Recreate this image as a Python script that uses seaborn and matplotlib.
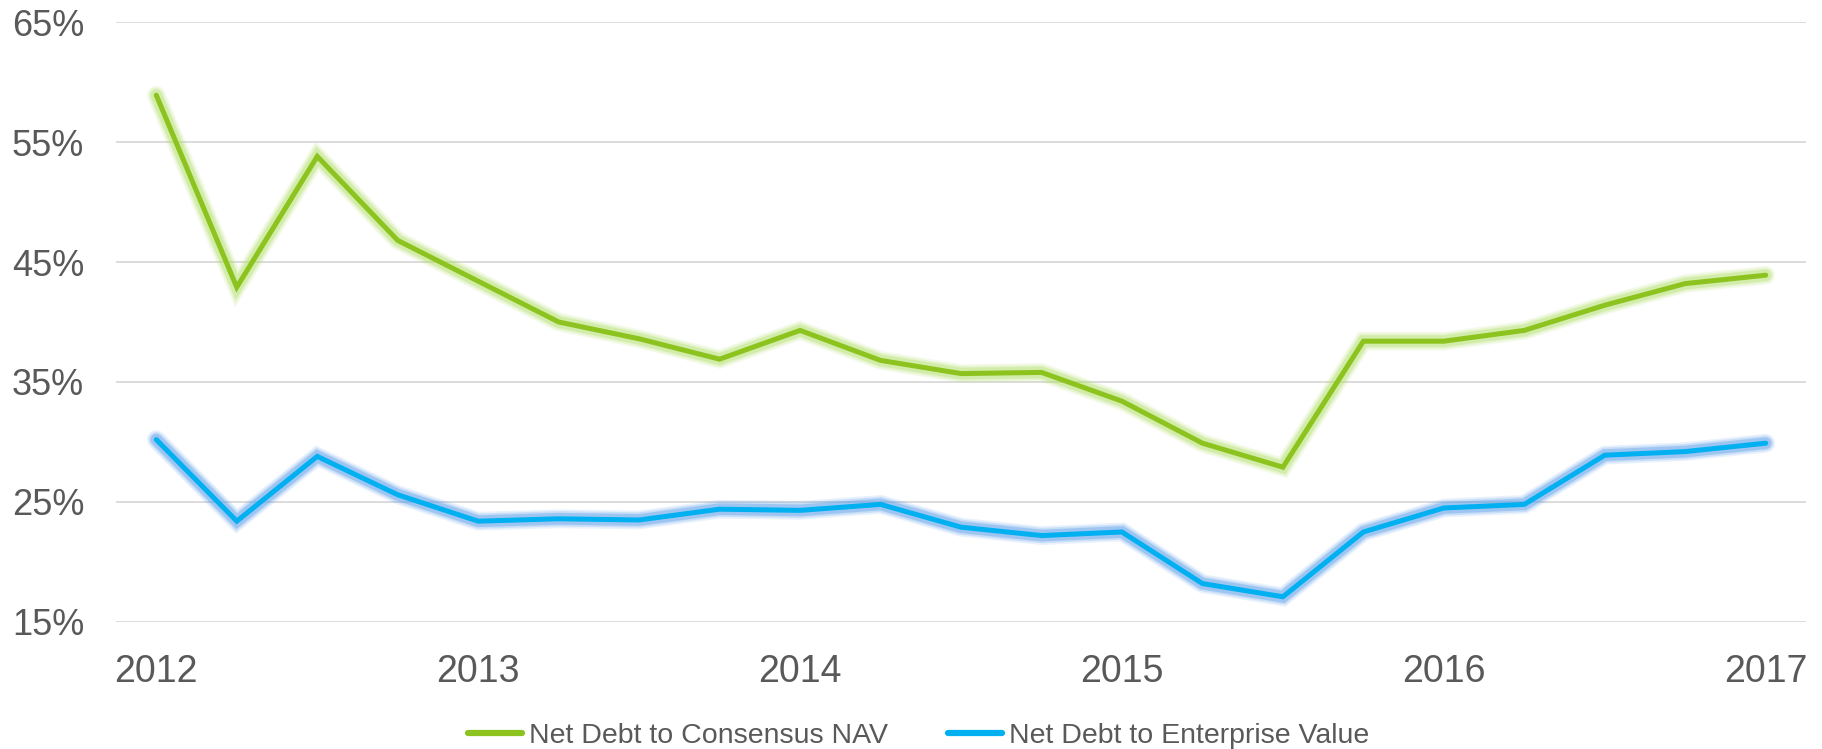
import numpy as np
import pandas as pd
import matplotlib
matplotlib.use("Agg")
import matplotlib.pyplot as plt
import matplotlib.patheffects as pe
from matplotlib.lines import Line2D
import seaborn as sns

# quarterly observations, 2012 Q1 .. 2017 Q1
quarters = ["2012Q1", "2012Q2", "2012Q3", "2012Q4",
            "2013Q1", "2013Q2", "2013Q3", "2013Q4",
            "2014Q1", "2014Q2", "2014Q3", "2014Q4",
            "2015Q1", "2015Q2", "2015Q3", "2015Q4",
            "2016Q1", "2016Q2", "2016Q3", "2016Q4",
            "2017Q1"]
nav_pct = [58.9, 42.9, 53.8, 46.8, 43.4, 40.0, 38.6, 36.9, 39.3, 36.8, 35.7,
           35.8, 33.4, 29.9, 27.9, 38.4, 38.4, 39.3, 41.4, 43.2, 43.9]
ev_pct = [30.2, 23.4, 28.8, 25.6, 23.4, 23.6, 23.5, 24.4, 24.3, 24.8, 22.9,
          22.2, 22.5, 18.2, 17.1, 22.5, 24.5, 24.8, 28.9, 29.2, 29.9]
series_names = ["Net Debt to Consensus NAV", "Net Debt to Enterprise Value"]
year_labels = ["2012", "2013", "2014", "2015", "2016", "2017"]
y_ticks = [15, 25, 35, 45, 55, 65]

colors = {"Net Debt to Consensus NAV": "#8CC31E",
          "Net Debt to Enterprise Value": "#00B0F0"}
glows = {"Net Debt to Consensus NAV": "#B5E070",
         "Net Debt to Enterprise Value": "#5E9FEA"}

idx = np.arange(len(quarters))
df = pd.concat([
    pd.DataFrame({"q": idx, "value": nav_pct, "series": series_names[0]}),
    pd.DataFrame({"q": idx, "value": ev_pct, "series": series_names[1]}),
])

sns.set_theme(style="white")
plt.rcParams["font.family"] = ["Liberation Sans", "DejaVu Sans"]

fig = plt.figure(figsize=(18.22, 7.49), dpi=100)
ax = fig.add_axes([0.0637, 0.1696, 0.9275, 0.8010])

sns.lineplot(data=df, x="q", y="value", hue="series", palette=colors,
             linewidth=3.6, legend=False, ax=ax)

# soft glow behind each line
for line, name in zip(ax.lines, series_names):
    g = glows[name]
    line.set_solid_capstyle("round")
    line.set_solid_joinstyle("miter")
    line.set_path_effects([
        pe.Stroke(linewidth=13.5, foreground=g, alpha=0.14),
        pe.Stroke(linewidth=11, foreground=g, alpha=0.22),
        pe.Stroke(linewidth=8.5, foreground=g, alpha=0.4),
        pe.Normal(),
    ])

ax.set_xlim(-0.5, len(quarters) - 0.5)
ax.set_ylim(15, 65)
ax.set_xticks(idx[::4])
ax.set_xticklabels(year_labels)
ax.set_yticks(y_ticks)
ax.set_yticklabels([f"{v}%" for v in y_ticks])
ax.set_xlabel("")
ax.set_ylabel("")

ax.grid(axis="y", color="#D9D9D9", linewidth=1.3)
ax.set_axisbelow(True)
for s in ["top", "right", "left", "bottom"]:
    ax.spines[s].set_visible(False)
ax.tick_params(axis="x", length=0, pad=23, labelsize=27, labelcolor="#595959")
ax.tick_params(axis="y", length=0, pad=23, labelsize=26, labelcolor="#595959")

handles = [Line2D([], [], color=colors[n], linewidth=4.5, solid_capstyle="round")
           for n in series_names]
fig.legend(handles, series_names, loc="center", bbox_to_anchor=(0.504, 0.018),
           ncol=2, frameon=False, handlelength=1.9, handletextpad=0.25,
           columnspacing=2.1, prop={"size": 20.5}, labelcolor="#595959")

fig.savefig("out.png", dpi=100)
